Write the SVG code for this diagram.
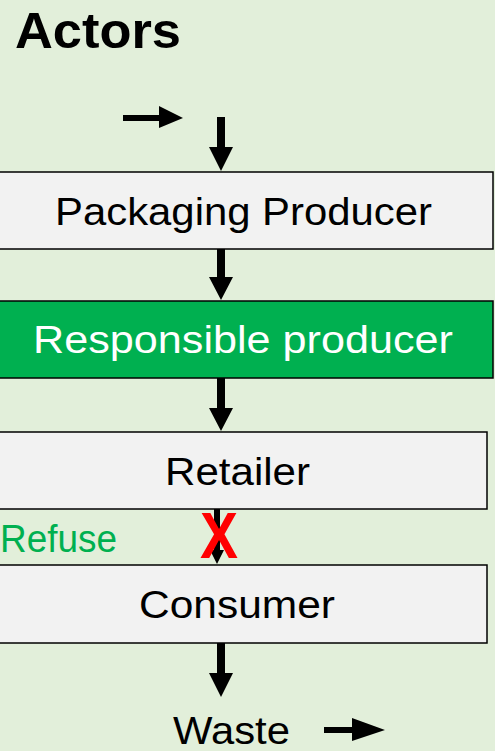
<svg xmlns="http://www.w3.org/2000/svg" width="495" height="751" viewBox="0 0 495 751">
<style>
.box{fill:#F2F2F2;stroke:#000;stroke-width:1.5}
.green{fill:#00B050;stroke:#000;stroke-width:1.5}
.t{font-family:"Liberation Sans",Arial,sans-serif;font-size:38px;text-anchor:start}
.arr{fill:#000}
</style>
<rect width="495" height="751" fill="#E2EFDA"/>
<text x="15" y="48" font-family="Liberation Sans, Arial, sans-serif" font-weight="bold" font-size="50" textLength="166" lengthAdjust="spacingAndGlyphs">Actors</text>
<g id="connectors">
  <polygon class="arr" points="123,115 159,115 159,106 183,118 159,128 159,121 123,121"/>
  <polygon class="arr" points="217,117 225,117 225,147 233,147 221,171 209,147 217,147"/>
  <polygon class="arr" points="217,249 225,249 225,277 233,277 221,300 209,277 217,277"/>
  <polygon class="arr" points="217,378 225,378 225,408 233,408 221,431 209,408 217,408"/>
  <polygon class="arr" points="214,509 220,509 220,550 224,550 217,564 210,550 214,550"/>
  <polygon class="arr" points="217,643 225,643 225,673 233,673 221,697 209,673 217,673"/>
  <polygon class="arr" points="324,727 352,727 352,718 385,730 352,741 352,733 324,733"/>
</g>
<g id="packaging-producer">
  <rect class="box" x="-5" y="172" width="498" height="77"/>
  <text class="t" x="55" y="225" textLength="377" lengthAdjust="spacingAndGlyphs">Packaging Producer</text>
</g>
<g id="responsible-producer">
  <rect class="green" x="-5" y="301" width="498" height="77"/>
  <text class="t" x="33" y="353" fill="#fff" textLength="420" lengthAdjust="spacingAndGlyphs">Responsible producer</text>
</g>
<g id="retailer">
  <rect class="box" x="-5" y="432" width="492" height="77"/>
  <text class="t" x="165" y="485" textLength="145" lengthAdjust="spacingAndGlyphs">Retailer</text>
</g>
<g id="refuse">
  <text class="t" x="0" y="552" fill="#00B050" textLength="117" lengthAdjust="spacingAndGlyphs">Refuse</text>
  <text x="200" y="558" font-family="Liberation Sans, Arial, sans-serif" font-weight="bold" font-size="64" fill="#FF0000" textLength="38" lengthAdjust="spacingAndGlyphs">X</text>
</g>
<g id="consumer">
  <rect class="box" x="-5" y="565" width="492" height="78"/>
  <text class="t" x="139" y="618" textLength="196" lengthAdjust="spacingAndGlyphs">Consumer</text>
</g>
<g id="waste">
  <text class="t" x="173" y="744" textLength="117" lengthAdjust="spacingAndGlyphs">Waste</text>
</g>
</svg>
